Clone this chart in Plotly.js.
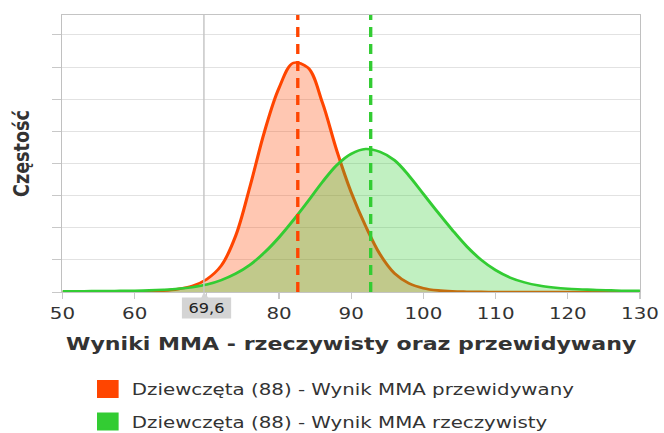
<!DOCTYPE html>
<html><head><meta charset="utf-8">
<script src="https://cdn.plot.ly/plotly-3.0.1.min.js"></script>
<style>
html,body{margin:0;padding:0;background:#fff;overflow:hidden;width:664px;height:433px;}
#chart{width:553px;height:433px;transform:scaleX(1.2007);transform-origin:0 0;}
</style>
</head><body><div id="chart"></div>
<script>
// Score axis sample points
const scoreX = [50, 52, 54, 56, 58, 60, 62, 64, 66, 68, 70, 72, 74, 76, 78, 80, 82, 84, 86, 88, 90,
                92, 94, 96, 98, 100, 102, 104, 106, 108, 110, 112, 114, 116, 118, 120, 122, 124, 126, 128, 130];
// Predicted MMA score distribution (orange)
const predY = [0, 0, 0, 0, 0.005, 0.01, 0.02, 0.04, 0.09, 0.19, 0.4, 0.82, 1.75, 3.3, 5.0, 6.35, 7.13, 6.98, 5.9, 4.4, 3.1,
               2.05, 1.17, 0.58, 0.27, 0.12, 0.05, 0.02, 0.01, 0.005, 0, 0, 0, 0, 0, 0, 0, 0, 0, 0, 0];
// Actual MMA score distribution (green)
const realY = [0.02, 0.02, 0.03, 0.03, 0.035, 0.04, 0.05, 0.07, 0.1, 0.15, 0.23, 0.37, 0.57, 0.85, 1.23, 1.7, 2.24, 2.82, 3.42, 3.95, 4.3,
               4.45, 4.36, 4.1, 3.62, 3.05, 2.48, 1.93, 1.42, 1.0, 0.68, 0.45, 0.3, 0.2, 0.14, 0.1, 0.08, 0.06, 0.05, 0.04, 0.04];
const meanPred = 82.6;
const meanReal = 92.7;
const cutoff = 69.6;
const predName = 'Dziewczęta (88) - Wynik MMA przewidywany';
const realName = 'Dziewczęta (88) - Wynik MMA rzeczywisty';
const xTitle = 'Wyniki MMA - rzeczywisty oraz przewidywany';
const yTitle = 'Częstość';
const xTickVals = [50, 60, 70, 80, 90, 100, 110, 120, 130];
const xTickText = ['50', '60', '', '80', '90', '100', '110', '120', '130'];
const xMin = 50, xMax = 130, yTop = 8.62;

const orange = '#ff4500', green = '#33cc33';
const traces = [
  {x: scoreX, y: predY, mode: 'lines', line: {color: orange, width: 2.6, shape: 'spline', smoothing: 1}, fill: 'tozeroy', fillcolor: 'rgba(255,69,0,0.3)', showlegend: false, hoverinfo: 'skip'},
  {x: scoreX, y: realY, mode: 'lines', line: {color: green, width: 2.6, shape: 'spline', smoothing: 1}, fill: 'tozeroy', fillcolor: 'rgba(51,204,51,0.3)', showlegend: false, hoverinfo: 'skip'},
  {x: [cutoff, cutoff], y: [0, yTop], mode: 'lines', line: {color: '#c4c4c4', width: 1.2}, showlegend: false, hoverinfo: 'skip'},
  {x: [meanPred, meanPred], y: [0, yTop], mode: 'lines', line: {color: orange, width: 2.8, dash: '10px,7px'}, showlegend: false, hoverinfo: 'skip'},
  {x: [meanReal, meanReal], y: [0, yTop], mode: 'lines', line: {color: green, width: 2.8, dash: '10px,7px'}, showlegend: false, hoverinfo: 'skip'},
  {x: [null], y: [null], mode: 'markers', marker: {symbol: 'square', size: 16, color: orange, line: {color: orange, width: 2}}, name: predName, legendgroup: 'a'},
  {x: [null], y: [null], mode: 'markers', marker: {symbol: 'square', size: 16, color: green, line: {color: green, width: 2}}, name: realName, legendgroup: 'b'}
];

const layout = {
  width: 553, height: 433,
  margin: {l: 52, r: 20, t: 15, b: 141, autoexpand: false},
  paper_bgcolor: '#fff', plot_bgcolor: '#fff',
  showlegend: true,
  xaxis: {
    range: [xMin, xMax], tickvals: xTickVals, ticktext: xTickText, ticks: 'outside', ticklen: 6, tickcolor: '#c8c8c8',
    showgrid: false, zeroline: false, showline: true, linecolor: '#c4c4c4', mirror: true,
    tickfont: {family: 'DejaVu Sans', size: 16.5, color: '#333'},
    title: {text: xTitle, standoff: 15, font: {family: 'DejaVu Sans', size: 18.4, color: '#333', weight: 'bold'}},
    automargin: false, fixedrange: true
  },
  yaxis: {
    range: [0, yTop], tick0: 0, dtick: 1, ticks: 'outside', ticklen: 8, tickcolor: '#c8c8c8',
    showticklabels: false, showgrid: true, gridcolor: '#e2e2e2', zeroline: false,
    showline: true, linecolor: '#c0c0c0', mirror: true,
    title: {text: yTitle, standoff: 13.5, font: {family: 'DejaVu Sans', size: 17.6, color: '#333', weight: 'bold'}},
    automargin: false, fixedrange: true
  },
  legend: {
    orientation: 'v', x: 0.037, xanchor: 'left', y: -0.288, yanchor: 'top',
    font: {family: 'DejaVu Sans', size: 16.5, color: '#333'}, tracegroupgap: 8,
    bgcolor: 'rgba(0,0,0,0)'
  },
  annotations: [{
    x: cutoff, xref: 'x', y: 0, yref: 'y', ax: 1.7, ay: 16, axref: 'pixel', ayref: 'pixel',
    showarrow: true, arrowhead: 2, arrowsize: 1, arrowwidth: 2, arrowcolor: '#d4d4d4', standoff: 0,
    text: String(cutoff).replace('.', ','),
    font: {family: 'DejaVu Sans', size: 13.5, color: '#222'},
    bgcolor: '#d4d4d4', borderpad: 3, width: 34, height: 14
  }]
};
Plotly.newPlot('chart', traces, layout, {displayModeBar: false, staticPlot: true});
</script></body></html>
